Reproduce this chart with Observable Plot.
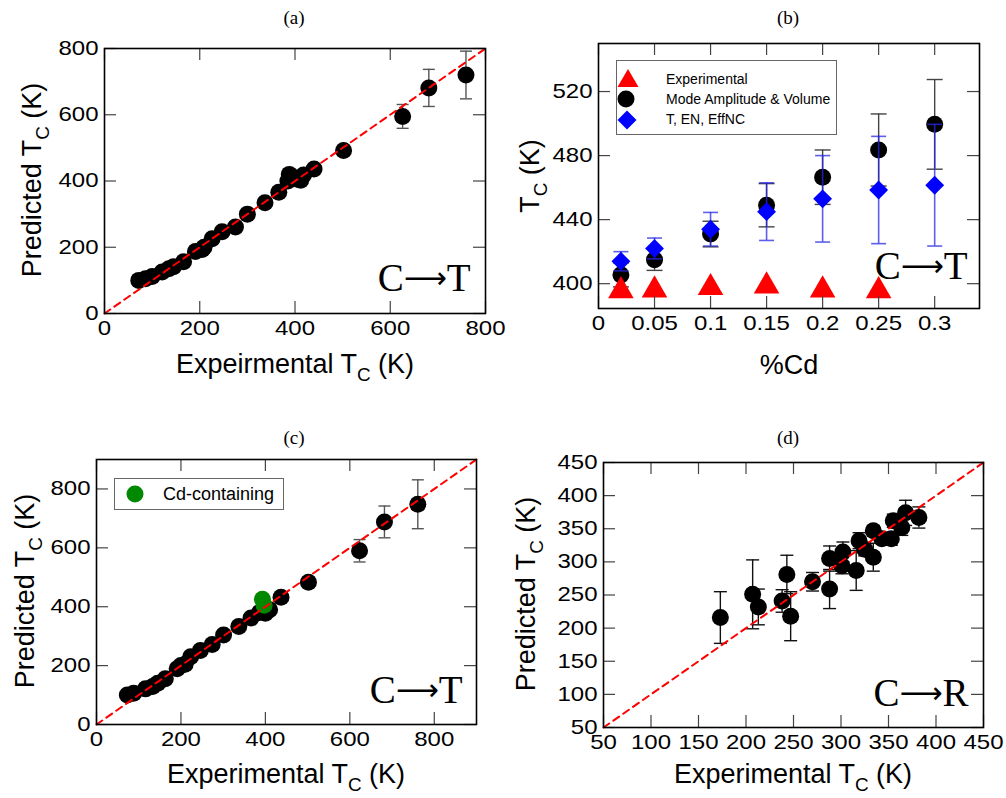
<!DOCTYPE html>
<html><head><meta charset="utf-8">
<script src="https://cdn.jsdelivr.net/npm/d3@7"></script>
<script src="https://cdn.jsdelivr.net/npm/@observablehq/plot@0.6"></script>
<style>
body{margin:0;background:#fff;}
#root{position:relative;width:1006px;height:798px;overflow:hidden;background:#fff;font-family:"Liberation Sans",Arial,sans-serif;color:#000;}
.panel{position:absolute;}
.title{position:absolute;font-family:"Liberation Serif",serif;font-size:19px;line-height:1;white-space:nowrap;transform:translate(-50%,-50%);}
.lab{position:absolute;font-size:27px;line-height:1;white-space:nowrap;transform:translate(-50%,-50%);}
.lab.rot{transform:translate(-50%,-50%) rotate(-90deg);}
.sub{font-size:0.7em;position:relative;top:0.4em;}
.legend{position:absolute;border:1px solid #666;background:#fff;box-sizing:border-box;}
.legend .row{position:absolute;white-space:nowrap;line-height:1;}
.legend svg{position:absolute;overflow:visible;}
</style></head><body><div id="root"></div>
<script>
// ---------- Panel (a): C->T, Mode Amplitude & Volume ----------
const aExp  = [72, 86, 100, 121, 135, 145, 166, 191, 205, 209, 226, 247, 275, 300, 337, 366, 385, 388, 395, 405, 412, 418, 440, 502, 626, 681, 759];
const aPred = [100, 105, 112, 125, 135, 141, 156, 187, 193, 200, 226, 247, 261, 300, 334, 366, 400, 420, 412, 405, 402, 418, 436, 492, 595, 681, 720];
const aErr  = [0, 0, 0, 0, 0, 0, 0, 0, 0, 0, 0, 0, 0, 0, 0, 0, 0, 0, 0, 0, 0, 0, 0, 0, 36, 56, 72];

// ---------- Panel (b): Tc vs %Cd ----------
const bCd       = [0.02, 0.05, 0.1, 0.15, 0.2, 0.25, 0.3];
const bExpCd    = [0.02, 0.05, 0.1, 0.15, 0.2, 0.25];
const bExpTc    = [395.5, 396, 397.5, 398.5, 396, 395.5];
const bModeTc   = [405.5, 415, 431, 449, 466.5, 483.5, 499.5];
const bModeErr  = [7.5, 6.7, 8, 13.5, 17, 22.5, 28];
const bTenTc    = [414, 422, 434, 445, 453, 458.5, 461.5];
const bTenErr   = [6, 6.5, 10.5, 18, 27, 33.5, 38];
const bSeries   = ["Experimental", "Mode Amplitude & Volume", "T, EN, EffNC"];

// ---------- Panel (c): C->T with Cd-containing ----------
const cExp  = [73, 88, 116, 133, 145, 163, 191, 200, 210, 223, 246, 274, 301, 337, 366, 386, 398, 400, 410, 437, 502, 623, 682, 761];
const cPred = [100, 106, 121, 129, 140, 155, 189, 200, 205, 230, 251, 272, 304, 333, 362, 380, 386, 378, 390, 432, 483, 590, 688, 748];
const cErr  = [0, 0, 0, 0, 0, 0, 0, 0, 0, 0, 0, 0, 0, 0, 0, 0, 0, 0, 0, 0, 0, 38, 54, 83];
const cCdExp  = [393, 397];
const cCdPred = [425, 405];
const cLegend = ["Cd-containing"];

// ---------- Panel (d): C->R ----------
const dExp  = [173, 207, 213, 238, 243, 247, 270, 288, 288, 301, 302, 316, 319, 325, 334, 334, 343, 353, 355, 364, 368, 382];
const dPred = [216, 251, 232, 241, 281, 218, 270, 305, 259, 294, 315, 287, 332, 319, 307, 347, 335, 335, 362, 352, 374, 367];
const dErr  = [39, 52, 27, 17, 29, 37, 14, 19, 29.5, 12, 15, 30, 12, 10, 21, 8, 6, 10, 10, 12, 19, 16];

// ---------- axes ----------
const abTicks  = [0, 200, 400, 600, 800];
const abDomain = [0, 800];
const bXTicks  = [0, 0.05, 0.1, 0.15, 0.2, 0.25, 0.3];
const bYTicks  = [400, 440, 480, 520];
const bXDomain = [0, 0.34];
const bYDomain = [384.5, 550];
const cTicks   = [0, 200, 400, 600, 800];
const cDomain  = [0, 900];
const dTicks   = [50, 100, 150, 200, 250, 300, 350, 400, 450];
const dDomain  = [50, 450];

const rows = (xs, ys, es) => xs.map((x, i) => ({x, y: ys[i], e: es ? es[i] : 0}));
const capSymbol = {draw(ctx, size) { const w = Math.sqrt(size / Math.PI); ctx.moveTo(-w, 0); ctx.lineTo(w, 0); }};
const plain = d => String(d);
const arrow = "\u27F6";
const SVGNS = "http://www.w3.org/2000/svg";

function errMarks(data, stroke, cap, sw) {
  const d = data.filter(r => r.e > 0);
  return [
    Plot.ruleX(d, {x: "x", y1: r => r.y - r.e, y2: r => r.y + r.e, stroke, strokeWidth: sw}),
    Plot.dot(d, {x: "x", y: r => r.y - r.e, symbol: capSymbol, r: cap, stroke, strokeWidth: sw, fill: "none"}),
    Plot.dot(d, {x: "x", y: r => r.y + r.e, symbol: capSymbol, r: cap, stroke, strokeWidth: sw, fill: "none"})
  ];
}
function diag(dom) { return [{x: dom[0], y: dom[0]}, {x: dom[1], y: dom[1]}]; }
function corner(txt, dx, dy) {
  return Plot.text([txt], {text: d => d, frameAnchor: "bottom-right", textAnchor: "end", lineAnchor: "bottom",
    dx, dy, fontFamily: "Liberation Serif, serif", fontSize: 39, fill: "black"});
}

const root = document.getElementById("root");

function panel({left, top, width, height, frame, xDomain, yDomain, xTicks, yTicks, marks}) {
  const [fl, fr, ft, fb] = frame;
  const fw = fr - fl, fh = fb - ft, tl = 12;
  const svg = Plot.plot({
    width, height,
    marginLeft: fl - left, marginRight: left + width - fr,
    marginTop: ft - top, marginBottom: top + height - fb,
    x: {domain: xDomain}, y: {domain: yDomain},
    style: {fontFamily: "Liberation Sans, Arial, sans-serif", fontSize: "20px", background: "transparent", color: "black", overflow: "visible"},
    marks: [
      ...marks,
      Plot.tickX(xTicks, {x: d => d, insetTop: fh - tl, stroke: "#444", strokeWidth: 1.2}),
      Plot.tickX(xTicks, {x: d => d, insetBottom: fh - tl, stroke: "#444", strokeWidth: 1.2}),
      Plot.tickY(yTicks, {y: d => d, insetLeft: fw - tl, stroke: "#444", strokeWidth: 1.2}),
      Plot.tickY(yTicks, {y: d => d, insetRight: fw - tl, stroke: "#444", strokeWidth: 1.2}),
      Plot.frame({stroke: "black", strokeWidth: 1.6}),
      Plot.axisX(xTicks, {tickSize: 0, tickPadding: 7, label: null, fontSize: 20, tickFormat: plain}),
      Plot.axisY(yTicks, {tickSize: 0, tickPadding: 6, label: null, fontSize: 20, tickFormat: plain})
    ]
  });
  // tick labels of the original are drawn in a wide face: stretch them horizontally
  svg.querySelectorAll('g[aria-label$="tick label"] text').forEach(t => {
    t.setAttribute("transform", (t.getAttribute("transform") || "") + " scale(1.2,1)");
  });
  // corner label: long thin arrow between the two letters
  svg.querySelectorAll('g[aria-label="text"] text').forEach(t => {
    const chars = Array.from(t.textContent);
    t.textContent = "";
    const mk = (s, attrs) => {
      const ts = document.createElementNS(SVGNS, "tspan");
      ts.textContent = s;
      for (const k in attrs) ts.setAttribute(k, attrs[k]);
      t.appendChild(ts);
    };
    mk(chars[0], {});
    mk(chars[1], {"font-size": 30, dy: -3, "font-family": "DejaVu Sans, sans-serif"});
    mk(chars[2], {dy: 3});
  });
  svg.classList.add("panel");
  svg.style.left = left + "px";
  svg.style.top = top + "px";
  root.appendChild(svg);
}

function html(cls, x, y, content, extra) {
  const el = document.createElement("div");
  el.className = cls;
  el.style.left = x + "px"; el.style.top = y + "px";
  el.innerHTML = content;
  if (extra) Object.assign(el.style, extra);
  root.appendChild(el);
  return el;
}

const tcLabel = (pre) => `${pre}T<span class="sub">C</span> (K)`;

// (a)
const aData = rows(aExp, aPred, aErr);
panel({left: 0, top: 30, width: 503, height: 320, frame: [104, 485, 48, 313],
  xDomain: abDomain, yDomain: abDomain, xTicks: abTicks, yTicks: abTicks,
  marks: [
    ...errMarks(aData, "#555", 6, 1.4),
    Plot.dot(aData, {x: "x", y: "y", r: 8.5, fill: "black"}),
    Plot.line(diag(abDomain), {x: "x", y: "y", stroke: "#f00", strokeWidth: 2, strokeDasharray: "7,5"}),
    corner("C" + arrow + "T", -15, -23)
  ]});

// (b)
const bMode = rows(bCd, bModeTc, bModeErr);
const bTen = rows(bCd, bTenTc, bTenErr);
const bExp = rows(bExpCd, bExpTc);
panel({left: 503, top: 30, width: 503, height: 320, frame: [598, 979, 43, 308],
  xDomain: bXDomain, yDomain: bYDomain, xTicks: bXTicks, yTicks: bYTicks,
  marks: [
    ...errMarks(bMode, "#444", 8, 1.4),
    Plot.dot(bMode, {x: "x", y: "y", r: 8.5, fill: "black"}),
    ...errMarks(bTen, "rgba(40,40,230,0.75)", 7.5, 1.6),
    Plot.dot(bTen, {x: "x", y: "y", r: 8.5, symbol: "diamond2", fill: "#0000ff"}),
    Plot.dot(bExp, {x: "x", y: "y", r: 9.5, symbol: "triangle", fill: "#ff0000"}),
    corner("C" + arrow + "T", -12, -30)
  ]});

// (c)
const cData = rows(cExp, cPred, cErr);
const cCd = rows(cCdExp, cCdPred);
panel({left: 0, top: 440, width: 503, height: 320, frame: [96, 476, 459, 724],
  xDomain: cDomain, yDomain: cDomain, xTicks: cTicks, yTicks: cTicks,
  marks: [
    ...errMarks(cData, "#555", 6, 1.4),
    Plot.dot(cData, {x: "x", y: "y", r: 8.5, fill: "black"}),
    Plot.dot(cCd, {x: "x", y: "y", r: 8.5, fill: "#008800"}),
    Plot.line(diag(cDomain), {x: "x", y: "y", stroke: "#f00", strokeWidth: 2, strokeDasharray: "7,5"}),
    corner("C" + arrow + "T", -14, -22)
  ]});

// (d)
const dData = rows(dExp, dPred, dErr);
panel({left: 503, top: 440, width: 503, height: 320, frame: [603, 983, 462, 727],
  xDomain: dDomain, yDomain: dDomain, xTicks: dTicks, yTicks: dTicks,
  marks: [
    ...errMarks(dData, "#111", 6.5, 1.4),
    Plot.dot(dData, {x: "x", y: "y", r: 8.5, fill: "black"}),
    Plot.line(diag(dDomain), {x: "x", y: "y", stroke: "#f00", strokeWidth: 2, strokeDasharray: "7,5"}),
    corner("C" + arrow + "R", -15, -22)
  ]});

// titles
html("title", 294, 17, "(a)");
html("title", 788, 17, "(b)");
html("title", 294, 437, "(c)");
html("title", 788, 437, "(d)");

// axis labels
html("lab", 295, 364, tcLabel("Expeirmental "));
html("lab rot", 32, 180, tcLabel("Predicted "));
html("lab", 789, 365, "%Cd");
html("lab rot", 530, 176, tcLabel(""));
html("lab", 286, 774, tcLabel("Experimental "));
html("lab rot", 25, 591, tcLabel("Predicted "));
html("lab", 793, 774, tcLabel("Experimental "));
html("lab rot", 526, 594, tcLabel("Predicted "));

// legend (b)
const lb = html("legend", 616, 60, "", {width: "221px", height: "75px"});
const sym = {
  tri: `<svg width="22" height="20" style="left:9px"><polygon points="11,1 21.5,19 0.5,19" fill="#ff0000"/></svg>`,
  cir: `<svg width="18" height="18" style="left:11px"><circle cx="9" cy="9" r="8.5" fill="#000"/></svg>`,
  dia: `<svg width="20" height="20" style="left:10px"><polygon points="10,0.5 19.5,10 10,19.5 0.5,10" fill="#0000ff"/></svg>`
};
[["tri", bSeries[0]], ["cir", bSeries[1]], ["dia", bSeries[2]]].forEach(([s, t], i) => {
  const row = document.createElement("div");
  row.className = "row";
  row.style.top = (8 + i * 20) + "px";
  row.style.left = "0px";
  row.style.width = "219px";
  row.style.height = "20px";
  row.innerHTML = sym[s].replace("<svg ", `<svg style="top:${s === "tri" ? -1 : 1}px" `) +
    `<span style="position:absolute;left:49px;top:3px;font-size:14px;">${t}</span>`;
  lb.appendChild(row);
});

// legend (c)
const lc = html("legend", 114, 478, "", {width: "170px", height: "32px"});
lc.innerHTML = `<svg width="18" height="18" style="left:11px;top:6px"><circle cx="9" cy="9" r="8.5" fill="#008800"/></svg>` +
  `<span style="position:absolute;left:48px;top:6px;font-size:18px;line-height:1;">${cLegend[0]}</span>`;
</script></body></html>
